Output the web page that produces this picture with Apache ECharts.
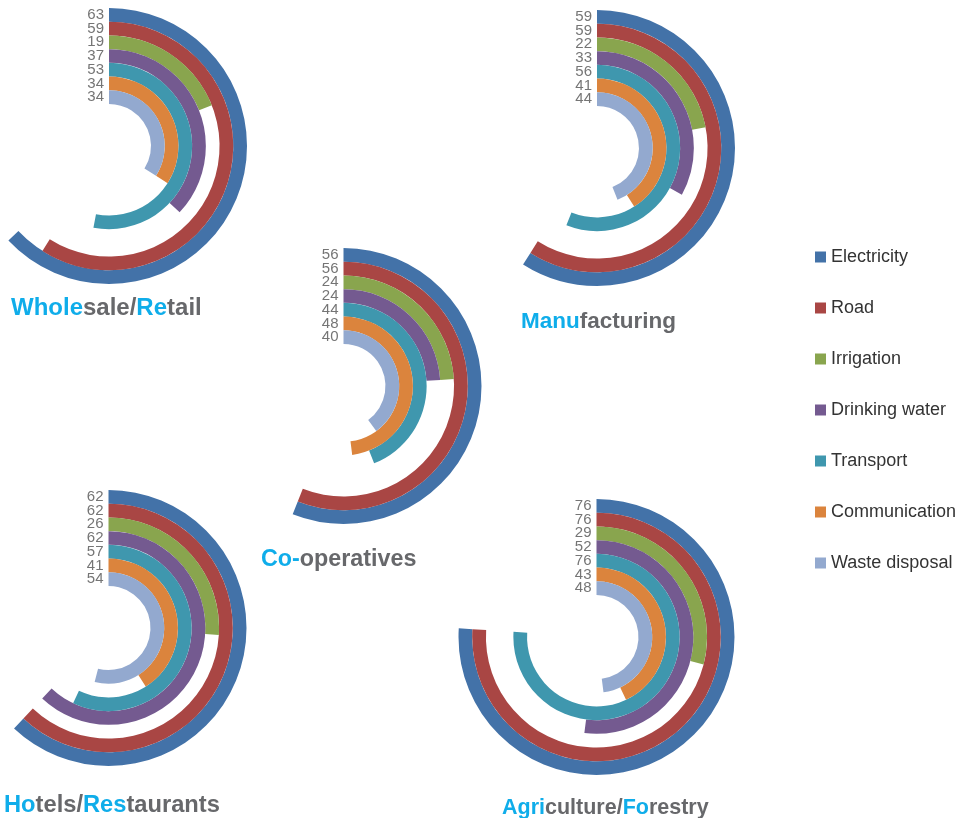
<!DOCTYPE html>
<html>
<head>
<meta charset="utf-8">
<title>Infrastructure by sector</title>
<script src="https://cdn.jsdelivr.net/npm/echarts@6/dist/echarts.min.js"></script>
<style>
  html, body { margin: 0; padding: 0; background: #fff; }
  #chart { width: 966px; height: 818px; }
</style>
</head>
<body>
<div id="chart"></div>
<script>
// Infrastructure types, outermost ring first
const categories = ['Electricity', 'Road', 'Irrigation', 'Drinking water', 'Transport', 'Communication', 'Waste disposal'];
const colors = ['#4372A8', '#A94644', '#89A54E', '#745A90', '#3F97AE', '#DB843D', '#93A9CF'];

// Share per sector (angle axis runs 0..100 round the full circle)
const wholesaleRetail     = [63, 59, 19, 37, 53, 34, 34];
const manufacturing       = [59, 59, 22, 33, 56, 41, 44];
const cooperatives        = [56, 56, 24, 24, 44, 48, 40];
const hotelsRestaurants   = [62, 62, 26, 62, 57, 41, 54];
const agricultureForestry = [76, 76, 29, 52, 76, 43, 48];

// Sector titles split into highlighted / plain parts
const titleParts = {
  wholesale: [['Whole', 'hi'], ['sale/', 'lo'], ['Re', 'hi'], ['tail', 'lo']],
  manufacturing: [['Manu', 'hi'], ['facturing', 'lo']],
  cooperatives: [['Co-', 'hi'], ['operatives', 'lo']],
  hotels: [['Ho', 'hi'], ['tels/', 'lo'], ['Res', 'hi'], ['taurants', 'lo']],
  agriculture: [['Agri', 'hi'], ['culture/', 'lo'], ['Fo', 'hi'], ['restry', 'lo']]
};

const panels = [
  { values: wholesaleRetail,     title: titleParts.wholesale,     center: [109, 146],   titlePos: [11, 294],  fs: 24 },
  { values: manufacturing,       title: titleParts.manufacturing, center: [597, 148],   titlePos: [521, 308], fs: 22.5 },
  { values: cooperatives,        title: titleParts.cooperatives,  center: [343.5, 386], titlePos: [261, 546], fs: 23.3 },
  { values: hotelsRestaurants,   title: titleParts.hotels,        center: [108.5, 628], titlePos: [4, 791],   fs: 23.7 },
  { values: agricultureForestry, title: titleParts.agriculture,   center: [596.5, 637], titlePos: [502, 794], fs: 21.5 }
];

const FONT = '"Liberation Sans", Arial, Helvetica, sans-serif';

const polar = [], angleAxis = [], radiusAxis = [], series = [], title = [];

panels.forEach(function (p, pi) {
  polar.push({ center: p.center, radius: [42, 138] });
  angleAxis.push({
    polarIndex: pi, type: 'value', min: 0, max: 100, startAngle: 90, clockwise: true,
    show: false, splitLine: { show: false }, axisLine: { show: false }
  });
  radiusAxis.push({
    polarIndex: pi, type: 'category', data: categories, inverse: true, show: false,
    axisLine: { show: false }, axisTick: { show: false }, axisLabel: { show: false }
  });
  categories.forEach(function (name, ci) {
    const data = categories.map(function (_, k) { return k === ci ? p.values[ci] : '-'; });
    series.push({
      type: 'bar',
      name: name,
      coordinateSystem: 'polar',
      polarIndex: pi,
      stack: 'panel' + pi,
      barCategoryGap: '0%',
      color: colors[ci],
      itemStyle: { color: colors[ci] },
      data: data,
      label: {
        show: true,
        position: 'start',
        distance: 5,
        fontSize: 15,
        fontFamily: FONT,
        color: '#757575',
        formatter: function (prm) { return String(prm.value); }
      },
      emphasis: { disabled: true }
    });
  });
  title.push({
    left: p.titlePos[0],
    top: p.titlePos[1],
    padding: 0,
    text: p.title.map(function (t) { return '{' + t[1] + '|' + t[0] + '}'; }).join(''),
    textStyle: {
      rich: {
        hi: { color: '#0FADEA', fontSize: p.fs, fontWeight: 'bold', fontFamily: FONT, lineHeight: 28 },
        lo: { color: '#67686B', fontSize: p.fs, fontWeight: 'bold', fontFamily: FONT, lineHeight: 28 }
      }
    }
  });
});

const chart = echarts.init(document.getElementById('chart'), null, { renderer: 'canvas' });
chart.setOption({
  animation: false,
  backgroundColor: '#ffffff',
  title: title,
  polar: polar,
  angleAxis: angleAxis,
  radiusAxis: radiusAxis,
  legend: {
    data: categories,
    orient: 'vertical',
    left: 815,
    top: 248,
    padding: 0,
    icon: 'rect',
    itemWidth: 11,
    itemHeight: 11,
    itemGap: 33,
    textStyle: { fontSize: 18, color: '#333333', fontFamily: FONT }
  },
  series: series
});
</script>
</body>
</html>
